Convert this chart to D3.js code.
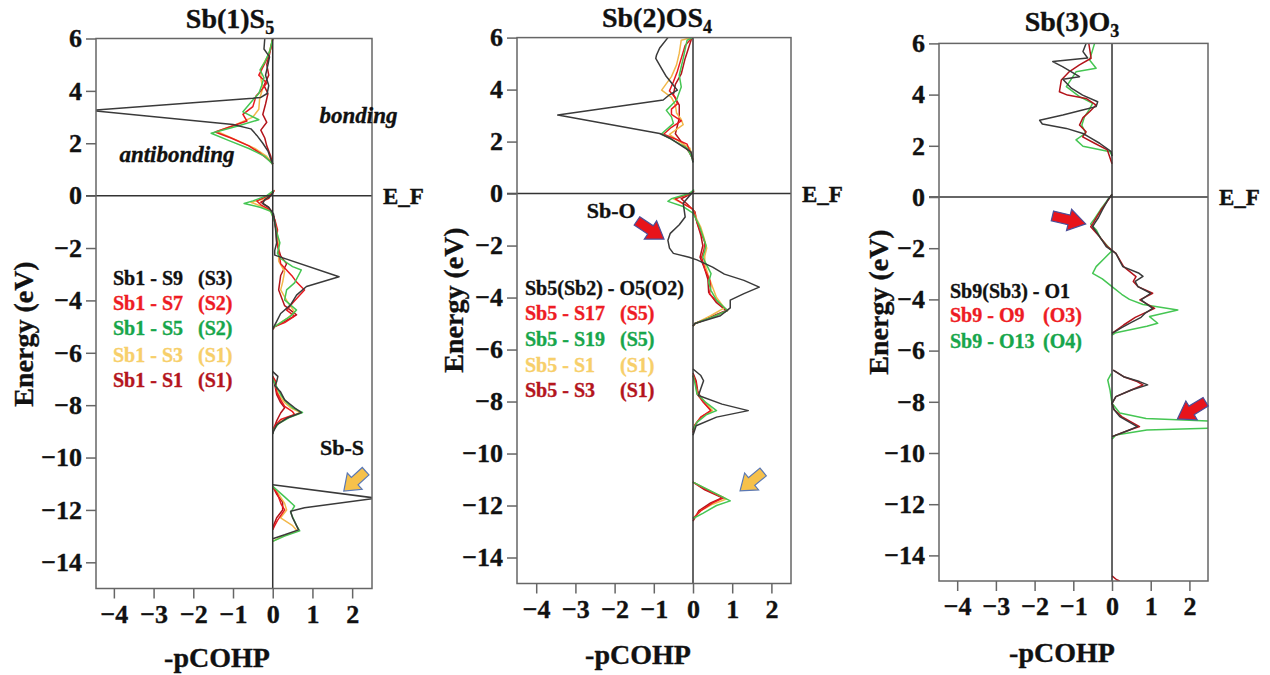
<!DOCTYPE html>
<meta charset="utf-8">
<title>pCOHP of Sb sites</title>
<style>
body { margin:0; background:#fff; }
text { font-family: "Liberation Serif", "Times New Roman", serif; font-weight: bold; color:#111; fill:currentColor; stroke:currentColor; stroke-width:0.35px; }
.box { fill:none; stroke:#666; stroke-width:1.5; }
.zero { stroke:#333; stroke-width:1.5; }
.axis path { display:none; }
.axis line { stroke:#666; stroke-width:1.5; }
.curve { fill:none; stroke-width:1.5; stroke-linejoin:round; }
</style>
<body>
<script src="https://d3js.org/d3.v7.min.js"></script>
<script>

// ticks shared by the three panels
var yTicks = [-14, -12, -10, -8, -6, -4, -2, 0, 2, 4, 6];
var xTicks = [-4, -3, -2, -1, 0, 1, 2];

// each point is [energy (eV), -pCOHP]; null breaks the line
// ---- Sb(1)S5
var p1_S9 = [[6,-0.2],[5.6,-0.22],[5.3,-0.08],[5.0,-0.12],[4.6,-0.18],[4.2,-0.1],[3.9,-0.14],[3.75,-0.3],[3.72,-0.5],[3.25,-4.6],[2.72,-1.0],[2.55,-0.55],[2.3,-0.4],[2.0,-0.25],[1.7,-0.12],[1.4,-0.05],[1.2,0],null,
  [0.15,0.02],[0,-0.05],[-0.15,-0.2],[-0.3,-0.25],[-0.45,-0.1],[-0.7,0.02],[-1.0,0.05],[-1.4,0.08],[-1.8,0.1],[-2.1,0.05],[-2.27,0.05],[-3.1,1.67],[-3.47,0.85],[-3.8,0.6],[-4.17,0.45],[-4.5,0.2],[-4.8,0.1],[-5.0,0.03],[-5.1,0],null,
  [-6.72,0],[-6.9,0.13],[-7.1,0.1],[-7.25,0.05],[-7.5,0.2],[-7.8,0.3],[-8.1,0.55],[-8.28,0.72],[-8.5,0.35],[-8.75,0.1],[-9.0,0.02],[-9.1,0],null,
  [-11.04,0],[-11.55,2.6],[-11.92,0.8],[-12.05,0.45],[-12.3,0.5],[-12.6,0.6],[-12.76,0.65],[-12.95,0.3],[-13.1,0]];
var p1_S7 = [[6,0],[5.6,-0.05],[5.2,-0.15],[4.9,-0.25],[4.6,-0.35],[4.3,-0.15],[4.0,-0.3],[3.8,-0.42],[3.4,-0.5],[3.1,-0.75],[2.85,-0.65],[2.43,-1.45],[2.2,-1.05],[1.9,-0.6],[1.6,-0.3],[1.3,-0.05],[1.2,0],null,
  [0.2,0.05],[0,-0.1],[-0.2,-0.4],[-0.35,-0.3],[-0.55,-0.05],[-0.9,0.05],[-1.3,0.12],[-1.7,0.1],[-2.1,0.15],[-2.6,0.2],[-3.09,0.5],[-3.3,0.6],[-3.6,0.8],[-4.1,0.5],[-4.37,0.35],[-4.6,0.55],[-4.85,0.3],[-5.0,0.05],[-5.1,0],null,
  [-6.9,0],[-7.1,0.08],[-7.5,0.1],[-7.8,0.2],[-8.05,0.3],[-8.25,0.5],[-8.35,0.55],[-8.55,0.2],[-8.8,0.05],[-9.0,0],null,
  [-11.1,0],[-11.4,0.12],[-11.8,0.22],[-12.0,0.3],[-12.4,0.12],[-12.6,0.05],[-12.75,0]];
var p1_S5 = [[6,0],[5.5,-0.08],[5.1,-0.2],[4.8,-0.32],[4.5,-0.22],[4.2,-0.28],[3.9,-0.35],[3.65,-0.5],[3.2,-0.75],[2.9,-0.35],[2.65,-0.9],[2.38,-1.55],[2.1,-1.1],[1.8,-0.6],[1.5,-0.2],[1.2,0],null,
  [0.2,0.03],[0,-0.15],[-0.2,-0.5],[-0.3,-0.72],[-0.45,-0.3],[-0.6,-0.05],[-1.0,0.05],[-1.4,0.1],[-1.8,0.18],[-2.2,0.12],[-2.4,0.2],[-2.71,0.5],[-2.84,0.72],[-3.33,0.55],[-3.6,0.35],[-3.98,0.3],[-4.37,0.6],[-4.6,0.45],[-4.85,0.2],[-5.05,0],null,
  [-7.0,0],[-7.3,0.1],[-7.6,0.2],[-7.9,0.35],[-8.1,0.5],[-8.28,0.75],[-8.45,0.45],[-8.7,0.15],[-8.95,0.02],[-9.1,0],null,
  [-11.1,0],[-11.5,0.3],[-11.85,0.55],[-12.1,0.45],[-12.6,0.6],[-12.8,0.68],[-13.0,0.3],[-13.2,0]];
var p1_S3 = [[6,0],[5.4,-0.1],[4.9,-0.28],[4.5,-0.3],[4.1,-0.25],[3.7,-0.33],[3.3,-0.35],[3.0,-0.5],[2.7,-0.95],[2.45,-1.4],[2.15,-0.95],[1.8,-0.45],[1.5,-0.15],[1.2,0],null,
  [0.15,0.02],[-0.1,-0.15],[-0.25,-0.55],[-0.4,-0.3],[-0.6,-0.05],[-1.0,0.05],[-1.5,0.12],[-2.0,0.15],[-2.5,0.15],[-2.9,0.3],[-3.3,0.25],[-3.6,0.2],[-4.0,0.35],[-4.45,0.55],[-4.7,0.35],[-5.0,0.05],[-5.1,0],null,
  [-6.9,0],[-7.2,0.06],[-7.6,0.15],[-7.9,0.3],[-8.1,0.45],[-8.28,0.7],[-8.45,0.4],[-8.7,0.12],[-9.0,0],null,
  [-11.1,0],[-11.4,0.15],[-11.75,0.3],[-12.0,0.35],[-12.3,0.2],[-12.6,0.5],[-12.8,0.62],[-13.0,0.25],[-13.2,0]];
var p1_S1 = [[6,0],[5.4,-0.08],[5.0,-0.15],[4.6,-0.1],[4.2,-0.22],[3.9,-0.12],[3.5,-0.18],[3.1,-0.25],[2.8,-0.15],[2.5,-0.3],[2.2,-0.2],[1.9,-0.15],[1.5,-0.05],[1.2,0],null,
  [0.15,0.02],[-0.1,-0.1],[-0.25,-0.3],[-0.45,-0.1],[-0.8,0.03],[-1.3,0.08],[-1.8,0.1],[-2.3,0.2],[-2.6,0.35],[-3.05,0.2],[-3.6,0.15],[-4.2,0.3],[-4.55,0.6],[-4.8,0.3],[-5.0,0.05],[-5.1,0],null,
  [-6.9,0],[-7.2,0.05],[-7.6,0.1],[-7.9,0.2],[-8.1,0.3],[-8.3,0.2],[-8.6,0.1],[-9.0,0],null,
  [-11.1,0],[-11.4,0.1],[-11.7,0.25],[-12.0,0.25],[-12.3,0.1],[-12.6,0.02],[-12.75,0]];

// ---- Sb(2)OS4
var p2_O5 = [[6,-0.64],[5.6,-0.85],[5.33,-0.93],[5.2,-0.95],[4.81,-0.8],[4.5,-0.68],[4.17,-0.5],[3.98,-0.4],[3.8,-0.6],[3.6,-0.76],[3.02,-3.45],[2.31,-0.85],[2.13,-0.59],[1.8,-0.25],[1.6,-0.05],[1.2,0],null,
  [0.05,0],[-0.1,-0.1],[-0.37,-0.25],[-0.9,-0.2],[-1.2,-0.35],[-1.53,-0.58],[-1.8,-0.64],[-2.1,-0.6],[-2.3,-0.5],[-2.45,-0.1],[-2.55,0.1],[-2.83,0.5],[-3.1,0.8],[-3.34,1.3],[-3.6,1.69],[-3.85,1.3],[-4.1,0.95],[-4.4,0.95],[-4.7,0.7],[-5.0,0.05],[-5.1,0],null,
  [-6.75,0],[-7.0,0.2],[-7.2,0.27],[-7.5,0.2],[-7.77,0.14],[-8.1,0.74],[-8.35,1.41],[-8.6,0.6],[-8.93,0.08],[-9.3,0]];
var p2_S17 = [[6,-0.02],[5.7,-0.2],[5.2,-0.3],[4.7,-0.4],[4.3,-0.5],[3.95,-0.6],[3.7,-0.45],[3.45,-0.4],[3.25,-0.55],[3.05,-0.55],[2.8,-0.3],[2.55,-0.55],[2.28,-0.75],[2.1,-0.45],[1.9,-0.15],[1.5,-0.05],[1.3,0],null,
  [0.1,0.03],[-0.05,-0.15],[-0.2,-0.45],[-0.35,-0.3],[-0.6,0],[-1.1,0.1],[-1.5,0.2],[-1.87,0.3],[-2.15,0.28],[-2.45,0.22],[-2.9,0.3],[-3.35,0.43],[-3.6,0.45],[-3.86,0.42],[-4.2,0.65],[-4.5,0.88],[-4.75,0.5],[-5.0,0.05],[-5.1,0],null,
  [-7.0,0],[-7.3,0.08],[-7.7,0.1],[-8.0,0.25],[-8.35,0.45],[-8.6,0.2],[-8.9,0.05],[-9.1,0],null,
  [-11.1,0],[-11.4,0.35],[-11.7,0.78],[-11.9,0.5],[-12.2,0.2],[-12.5,0]];
var p2_S19 = [[6,0],[5.9,-0.15],[5.2,-0.25],[4.55,-0.35],[4.1,-0.3],[3.6,-0.42],[3.2,-0.68],[2.95,-0.55],[2.7,-0.5],[2.3,-0.8],[2.0,-0.45],[1.75,-0.15],[1.4,-0.03],[1.2,0],null,
  [0.15,0.03],[0,-0.1],[-0.2,-0.55],[-0.3,-0.64],[-0.5,-0.25],[-0.75,0],[-1.2,0.15],[-1.62,0.25],[-2.0,0.33],[-2.2,0.3],[-2.45,0.25],[-2.75,0.35],[-3.08,0.46],[-3.4,0.4],[-3.73,0.46],[-4.1,0.6],[-4.5,0.88],[-4.75,0.5],[-5.0,0.05],[-5.1,0],null,
  [-7.0,0],[-7.3,0.05],[-7.7,0.1],[-8.0,0.3],[-8.35,0.6],[-8.5,0.35],[-8.8,0.1],[-9.1,0],null,
  [-11.1,0],[-11.4,0.4],[-11.82,0.95],[-12.0,0.6],[-12.3,0.25],[-12.5,0]];
var p2_S1 = [[6,-0.05],[5.9,-0.3],[5.4,-0.35],[4.95,-0.42],[4.5,-0.55],[3.98,-0.8],[3.7,-0.55],[3.4,-0.45],[3.1,-0.42],[2.85,-0.3],[2.65,-0.25],[2.28,-0.6],[2.0,-0.35],[1.75,-0.08],[1.3,0],null,
  [0.1,0.02],[-0.05,-0.15],[-0.2,-0.5],[-0.35,-0.3],[-0.6,0],[-1.0,0.1],[-1.3,0.2],[-1.7,0.28],[-2.1,0.35],[-2.4,0.3],[-2.7,0.3],[-3.1,0.38],[-3.6,0.5],[-4.0,0.6],[-4.4,0.8],[-4.7,0.45],[-5.0,0.05],[-5.1,0],null,
  [-7.0,0],[-7.3,0.06],[-7.7,0.12],[-8.0,0.3],[-8.35,0.5],[-8.6,0.2],[-8.9,0.05],[-9.1,0],null,
  [-11.1,0],[-11.4,0.38],[-11.75,0.85],[-11.95,0.5],[-12.2,0.2],[-12.5,0]];
var p2_S3 = [[6,-0.02],[5.9,-0.05],[5.2,-0.2],[4.6,-0.3],[4.2,-0.45],[3.8,-0.5],[3.4,-0.35],[2.9,-0.35],[2.6,-0.4],[2.3,-0.45],[2.0,-0.3],[1.6,-0.1],[1.3,0],null,
  [0.1,0.02],[-0.05,-0.1],[-0.2,-0.3],[-0.4,-0.15],[-0.7,0.05],[-1.1,0.1],[-1.6,0.2],[-2.0,0.25],[-2.45,0.18],[-2.9,0.3],[-3.3,0.38],[-3.8,0.4],[-4.2,0.6],[-4.5,0.85],[-4.75,0.45],[-5.0,0.05],[-5.1,0],null,
  [-6.9,0],[-7.2,0.08],[-7.6,0.12],[-8.0,0.25],[-8.35,0.48],[-8.6,0.2],[-8.9,0.05],[-9.2,0],null,
  [-11.1,0],[-11.4,0.3],[-11.7,0.75],[-11.9,0.45],[-12.2,0.15],[-12.6,0]];

// ---- Sb(3)O3
var p3_O1 = [[6,-0.67],[5.68,-0.75],[5.43,-0.63],[5.29,-1.53],[5.09,-1.28],[4.7,-0.84],[4.6,-1.27],[4.25,-1.05],[3.98,-0.76],[3.72,-0.37],[3.53,-0.41],[3.4,-0.76],[3.2,-1.27],[3.0,-1.87],[2.85,-1.8],[2.68,-1.18],[2.48,-0.75],[2.35,-0.6],[2.1,-0.32],[1.77,-0.02],[1.6,0],null,
  [0.1,0],[-0.12,-0.11],[-0.5,-0.25],[-0.8,-0.35],[-1.03,-0.45],[-1.16,-0.5],[-1.55,-0.32],[-1.94,-0.15],[-2.2,0.1],[-2.5,0.2],[-2.72,0.28],[-2.98,0.7],[-3.1,0.8],[-3.3,0.6],[-3.5,0.67],[-3.76,1.0],[-4.02,0.75],[-4.35,1.05],[-4.55,0.85],[-4.7,0.75],[-4.9,0.5],[-5.1,0.25],[-5.33,0],null,
  [-6.76,0.03],[-7.02,0.3],[-7.21,0.71],[-7.34,0.92],[-7.54,0.5],[-7.8,0.1],[-8.06,0],[-8.3,0.05],[-8.58,0.2],[-8.97,0.65],[-9.1,0.45],[-9.36,0]];
var p3_O9 = [[6,-0.6],[5.42,-0.54],[5.16,-0.84],[4.9,-1.1],[4.57,-1.31],[4.11,-1.36],[3.98,-1.15],[3.85,-0.67],[3.59,-0.41],[3.33,-0.58],[3.1,-0.75],[2.81,-0.84],[2.55,-0.67],[2.35,-0.76],[2.1,-0.45],[1.84,-0.12],[1.3,0],null,
  [0.1,0],[-0.12,-0.1],[-0.5,-0.28],[-0.8,-0.4],[-1.05,-0.5],[-1.16,-0.55],[-1.55,-0.32],[-1.94,-0.12],[-2.2,0.1],[-2.72,0.3],[-3.11,0.62],[-3.3,0.55],[-3.5,0.67],[-3.76,1.05],[-4.02,0.72],[-4.35,1.1],[-4.7,0.6],[-5.0,0.3],[-5.33,0],null,
  [-6.76,0.03],[-7.02,0.3],[-7.21,0.65],[-7.34,0.8],[-7.54,0.5],[-7.8,0.1],[-8.06,0],[-8.3,0.05],[-8.58,0.25],[-8.97,0.71],[-9.1,0.45],[-9.36,0],null,
  [-14.8,0],[-14.95,0.12],[-15,0.2]];
var p3_O13 = [[6,-0.45],[5.35,-0.58],[5.03,-0.41],[4.89,-0.93],[4.31,-1.18],[3.92,-0.84],[3.66,-0.5],[3.38,-0.6],[3.14,-0.71],[2.8,-0.78],[2.5,-0.68],[2.23,-0.93],[1.98,-0.75],[1.77,-0.05],[1.6,0],null,
  [0.1,0],[-0.12,-0.12],[-0.5,-0.3],[-0.85,-0.45],[-1.05,-0.55],[-1.3,-0.4],[-1.6,-0.3],[-1.94,-0.1],[-2.1,0],[-2.4,-0.2],[-2.72,-0.41],[-2.98,-0.5],[-3.2,-0.25],[-3.5,0],[-3.8,0.25],[-4.0,0.45],[-4.2,0.8],[-4.41,1.7],[-4.67,0.97],[-4.93,1.18],[-5.05,0.9],[-5.3,0.1],[-5.4,0],null,
  [-6.9,-0.02],[-7.15,-0.11],[-7.55,-0.05],[-8.06,0],[-8.44,0.2],[-8.65,0.88],[-8.76,2.7],[-9.02,2.7],[-9.1,0.9],[-9.3,0.1],[-9.46,0]];

// legend texts
var p1Pairs = ["Sb1 - S9", "Sb1 - S7", "Sb1 - S5", "Sb1 - S3", "Sb1 - S1"];
var p1Sites = ["(S3)", "(S2)", "(S2)", "(S1)", "(S1)"];
var p2Pairs = ["Sb5(Sb2) - O5(O2)", "Sb5 - S17", "Sb5 - S19", "Sb5 - S1", "Sb5 - S3"];
var p2Sites = ["", "(S5)", "(S5)", "(S1)", "(S1)"];
var p3Pairs = ["Sb9(Sb3) - O1", "Sb9 - O9", "Sb9 - O13"];
var p3Sites = ["", "(O3)", "(O4)"];

var lineCol = {black:"#3a3a3a", red:"#e8191f", green:"#45c653", orange:"#f2b84b", dark:"#b3141b"};
var textCol = {black:"#111", red:"#ee1c24", green:"#17a64b", orange:"#f7cf6a", dark:"#b4151d"};

var width = 1270;
var height = 675;

var svg = d3.select("body").append("svg")
    .attr("width", width)
    .attr("height", height);

var panels = [
  {id:1, title:"Sb(1)S", sub:"5", left:96, right:372, top:38.5, bottom:588.5, xdom:[-4.45,2.5],
   titleX:230, titleY:28, labX:217, labY:667, enX:33, enY:334, efX:383,
   series:[[p1_S1,"dark"],[p1_S3,"orange"],[p1_S7,"red"],[p1_S5,"green"],[p1_S9,"black"]],
   legCols:["black","red","green","orange","dark"], pairs:p1Pairs, sites:p1Sites,
   legX:113, siteX:198, legY:[285,310,335,362,387]},
  {id:2, title:"Sb(2)OS", sub:"4", left:517, right:791, top:37.6, bottom:583.5, xdom:[-4.49,2.5],
   titleX:657, titleY:27, labX:638, labY:664, enX:463, enY:300, efX:802,
   series:[[p2_S3,"dark"],[p2_S1,"orange"],[p2_S17,"red"],[p2_S19,"green"],[p2_O5,"black"]],
   legCols:["black","red","green","orange","dark"], pairs:p2Pairs, sites:p2Sites,
   legX:525, siteX:620, legY:[295,320,346,372,397]},
  {id:3, title:"Sb(3)O", sub:"3", left:939, right:1208, top:43.4, bottom:581, xdom:[-4.47,2.48],
   titleX:1072, titleY:31, labX:1062, labY:662, enX:888, enY:302, efX:1219,
   series:[[p3_O13,"green"],[p3_O9,"dark"],[p3_O1,"black"]],
   legCols:["black","red","green"], pairs:p3Pairs, sites:p3Sites,
   legX:950, siteX:1043, legY:[298,322,348]}
];

// arrows, in data units [ -pCOHP, energy ]
var arrows = [
  {panel:1, from:[2.34,-10.52], to:[1.79,-11.28], fill:"#f6c14b", edge:"#5a78b5"},
  {panel:2, from:[1.79,-10.71], to:[1.2,-11.44], fill:"#f6c14b", edge:"#5a78b5"},
  {panel:2, from:[-1.43,-1.05], to:[-0.74,-1.75], fill:"#e8141b", edge:"#4a4f9a"},
  {panel:3, from:[-1.54,-0.74], to:[-0.68,-1.05], fill:"#e8141b", edge:"#4a4f9a"},
  {panel:3, from:[2.42,-8.0], to:[1.69,-8.67], fill:"#e8141b", edge:"#4a4f9a"}
];

function blockArrow(g, x1, y1, x2, y2, fill, edge) {
  var L = Math.hypot(x2 - x1, y2 - y1);
  var ang = Math.atan2(y2 - y1, x2 - x1) * 180 / Math.PI;
  var hl = L * 0.5, w = 5, h = 11;
  var pts = [[0,-w],[L-hl,-w],[L-hl,-h],[L,0],[L-hl,h],[L-hl,w],[0,w]];
  g.append("polygon")
    .attr("points", pts.map(function(p){ return p.join(","); }).join(" "))
    .attr("transform", "translate(" + x1 + "," + y1 + ") rotate(" + ang + ")")
    .attr("fill", fill)
    .attr("stroke", edge)
    .attr("stroke-width", 1.2);
}

function styleTicks(sel) {
  sel.attr("font-family", null).attr("font-size", null);
  sel.selectAll("text")
    .attr("fill", null)
    .style("font-family", "'Liberation Serif', 'Times New Roman', serif")
    .style("font-weight", "bold")
    .style("font-size", "26px");
}

panels.forEach(function(p) {
  var g = svg.append("g");
  var x = d3.scaleLinear().domain(p.xdom).range([p.left, p.right]);
  var y = d3.scaleLinear().domain([-15, 6]).range([p.bottom, p.top]);
  p.x = x; p.y = y; p.g = g;

  g.append("clipPath").attr("id", "clip" + p.id)
    .append("rect")
      .attr("x", p.left).attr("y", p.top)
      .attr("width", p.right - p.left).attr("height", p.bottom - p.top);

  var line = d3.line()
      .defined(function(d) { return d !== null; })
      .x(function(d) { return x(d[1]); })
      .y(function(d) { return y(d[0]); });

  g.append("g")
      .attr("clip-path", "url(#clip" + p.id + ")")
    .selectAll("path")
    .data(p.series)
    .join("path")
      .attr("class", "curve")
      .attr("stroke", function(d) { return lineCol[d[1]]; })
      .attr("d", function(d) { return line(d[0]); });

  // E = 0 and -pCOHP = 0 lines
  g.append("line").attr("class", "zero")
      .attr("x1", p.left - 10).attr("x2", p.right)
      .attr("y1", y(0)).attr("y2", y(0));
  g.append("line").attr("class", "zero")
      .attr("x1", x(0)).attr("x2", x(0))
      .attr("y1", p.top).attr("y2", p.bottom);

  g.append("rect").attr("class", "box")
      .attr("x", p.left).attr("y", p.top)
      .attr("width", p.right - p.left).attr("height", p.bottom - p.top);

  g.append("g").attr("class", "axis")
      .attr("transform", "translate(" + p.left + ",0)")
      .call(d3.axisLeft(y).tickValues(yTicks).tickFormat(d3.format("d")).tickSize(10).tickPadding(4))
      .call(styleTicks);
  g.append("g").attr("class", "axis")
      .attr("transform", "translate(0," + p.bottom + ")")
      .call(d3.axisBottom(x).tickValues(xTicks).tickFormat(d3.format("d")).tickSize(10).tickPadding(6))
      .call(styleTicks);

  var t = g.append("text")
      .attr("x", p.titleX).attr("y", p.titleY)
      .attr("text-anchor", "middle")
      .style("font-size", "28px")
      .text(p.title);
  t.append("tspan").attr("dy", 6).style("font-size", "18px").text(p.sub);

  g.append("text")
      .attr("x", p.labX).attr("y", p.labY)
      .attr("text-anchor", "middle")
      .style("font-size", "28px")
      .text("-pCOHP");

  g.append("text")
      .attr("transform", "translate(" + p.enX + "," + p.enY + ") rotate(-90)")
      .attr("text-anchor", "middle")
      .style("font-size", "28px")
      .text("Energy (eV)");

  g.append("text")
      .attr("x", p.efX).attr("y", y(0) + 8)
      .style("font-size", "23px")
      .text("E_F");

  p.pairs.forEach(function(s, i) {
    g.append("text")
        .attr("x", p.legX).attr("y", p.legY[i])
        .style("font-size", "20px")
        .style("color", textCol[p.legCols[i]])
        .text(s);
    if (p.sites[i]) {
      g.append("text")
          .attr("x", p.siteX).attr("y", p.legY[i])
          .style("font-size", "20px")
          .style("color", textCol[p.legCols[i]])
          .text(p.sites[i]);
    }
  });
});

// annotations
var P1 = panels[0], P2 = panels[1];
P1.g.append("text").attr("x", P1.x(1.18)).attr("y", P1.y(2.78))
    .style("font-size", "23px").style("font-style", "italic").text("bonding");
P1.g.append("text").attr("x", P1.x(-3.86)).attr("y", P1.y(1.3))
    .style("font-size", "23px").style("font-style", "italic").text("antibonding");
P1.g.append("text").attr("x", P1.x(1.19)).attr("y", P1.y(-9.9))
    .style("font-size", "22px").text("Sb-S");
P2.g.append("text").attr("x", P2.x(-2.71)).attr("y", P2.y(-0.95))
    .style("font-size", "22px").text("Sb-O");

arrows.forEach(function(a) {
  var p = panels[a.panel - 1];
  blockArrow(svg, p.x(a.from[0]), p.y(a.from[1]), p.x(a.to[0]), p.y(a.to[1]), a.fill, a.edge);
});

</script>
